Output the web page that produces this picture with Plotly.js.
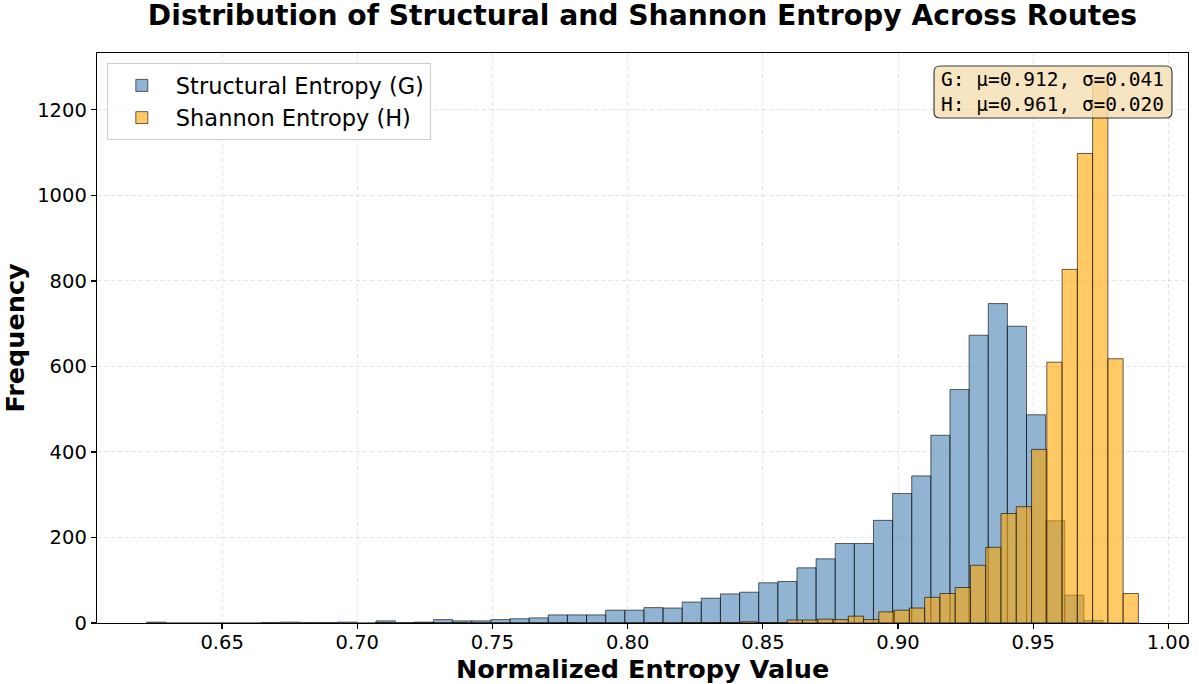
<!DOCTYPE html>
<html>
<head>
<meta charset="utf-8">
<script src="https://cdn.plot.ly/plotly-3.0.1.min.js"></script>
<style>html,body{margin:0;padding:0;background:#fff;}#chart{width:1199px;height:684px;}</style>
</head>
<body>
<div id="chart"></div>
<script>
// Histogram bins
const structuralBinStart = 0.62208;
const structuralBinWidth = 0.0070748;
const structuralCounts = [2,0,0,0,0,0,1,2,1,1,2,0,5,0,2,8,5,5,8,10,12,19,19,19,30,30,36,35,49,58,68,72,94,97,129,150,186,186,240,303,344,439,546,673,747,694,487,239,65,6];

const shannonBinStart = 0.70656;
const shannonBinWidth = 0.005647;
const shannonCounts = [1,0,0,0,0,1,0,0,0,0,0,0,1,0,0,0,0,0,1,0,1,1,1,1,3,1,1,7,7,9,8,16,8,26,30,35,60,69,83,135,177,256,272,406,610,827,1098,1268,618,69];

const seriesNames = ['Structural Entropy (G)', 'Shannon Entropy (H)'];
const statsText = ['G: μ=0.912, σ=0.041', 'H: μ=0.961, σ=0.020'];
const xTicks = [0.65, 0.70, 0.75, 0.80, 0.85, 0.90, 0.95, 1.00];
const yTicks = [0, 200, 400, 600, 800, 1000, 1200];

function centers(start, width, n) {
  const c = [];
  for (let i = 0; i < n; i++) c.push(start + width * (i + 0.5));
  return c;
}

const traces = [
  {
    type: 'bar',
    name: seriesNames[0],
    x: centers(structuralBinStart, structuralBinWidth, structuralCounts.length),
    y: structuralCounts,
    width: structuralBinWidth,
    marker: {color: 'rgba(70,130,180,0.6)', line: {color: 'rgba(0,0,0,0.6)', width: 1}},
  },
  {
    type: 'bar',
    name: seriesNames[1],
    x: centers(shannonBinStart, shannonBinWidth, shannonCounts.length),
    y: shannonCounts,
    width: shannonBinWidth,
    marker: {color: 'rgba(255,165,0,0.6)', line: {color: 'rgba(0,0,0,0.6)', width: 1}},
  }
];

// stats box (rounded rectangle), in paper units
const bx0 = 0.7672, bx1 = 0.9853, by0 = 0.886, by1 = 0.9772, rx = 0.0055, ry = 0.0105;
const boxPath = `M ${bx0+rx},${by1} L ${bx1-rx},${by1} Q ${bx1},${by1} ${bx1},${by1-ry} L ${bx1},${by0+ry} Q ${bx1},${by0} ${bx1-rx},${by0} L ${bx0+rx},${by0} Q ${bx0},${by0} ${bx0},${by0+ry} L ${bx0},${by1-ry} Q ${bx0},${by1} ${bx0+rx},${by1} Z`;

const font = 'DejaVu Sans, sans-serif';
const grid = {showgrid: true, gridcolor: 'rgba(0,0,0,0.1)', griddash: '4px,3px', gridwidth: 1};
const layout = {
  width: 1199, height: 684,
  margin: {l: 97, r: 11, t: 53, b: 61},
  paper_bgcolor: 'white', plot_bgcolor: 'white',
  barmode: 'overlay', bargap: 0,
  font: {family: font, color: 'black', size: 19},
  title: {text: '<b>Distribution of Structural and Shannon Entropy Across Routes</b>',
          font: {family: font, size: 28.2, color: 'black'}, xref: 'paper', x: 0.5, xanchor: 'center', y: 0.992, yanchor: 'top'},
  xaxis: Object.assign({
    range: [0.60374, 1.00725],
    tickvals: xTicks, ticktext: xTicks.map(v => v.toFixed(2)),
    ticks: 'outside', ticklen: 5, tickwidth: 1.2, tickcolor: 'black',
    ticklabelstandoff: -4,
    showline: true, linecolor: 'black', linewidth: 1.3, mirror: true,
    zeroline: false,
    tickfont: {family: font, size: 19.5}
  }, grid),
  yaxis: Object.assign({
    range: [0, 1333],
    tickvals: yTicks,
    ticks: 'outside', ticklen: 5, tickwidth: 1.2, tickcolor: 'black',
    showline: true, linecolor: 'black', linewidth: 1.3, mirror: true,
    zeroline: false,
    tickfont: {family: font, size: 19.5},
    title: {text: '<b>Frequency</b>', font: {family: font, size: 25.5}, standoff: 6}
  }, grid),
  legend: {
    x: 0.009, y: 0.982, xanchor: 'left', yanchor: 'top',
    bgcolor: 'rgba(255,255,255,0.8)', bordercolor: '#cccccc', borderwidth: 1,
    font: {family: font, size: 22.5}, itemwidth: 58, tracegroupgap: 2
  },
  shapes: [{
    type: 'path', xref: 'paper', yref: 'paper', path: boxPath, layer: 'above',
    fillcolor: 'rgba(245,222,179,0.8)', line: {color: 'rgba(0,0,0,0.75)', width: 1.2}
  }],
  annotations: [{
    xref: 'paper', yref: 'paper', x: (bx0 + bx1) / 2, y: (by0 + by1) / 2, xanchor: 'center', yanchor: 'middle',
    text: statsText.join('<br>'), showarrow: false, align: 'left',
    font: {family: 'DejaVu Sans Mono, monospace', size: 19.5, color: 'black'}
  }, {
    // x-axis title
    xref: 'paper', yref: 'paper', x: 0.5, y: -0.08, xanchor: 'center', yanchor: 'middle',
    text: '<b>Normalized Entropy Value</b>', showarrow: false,
    font: {family: font, size: 25.5, color: 'black'}
  }]
};

Plotly.newPlot('chart', traces, layout, {displayModeBar: false, staticPlot: true});
</script>
</body>
</html>
